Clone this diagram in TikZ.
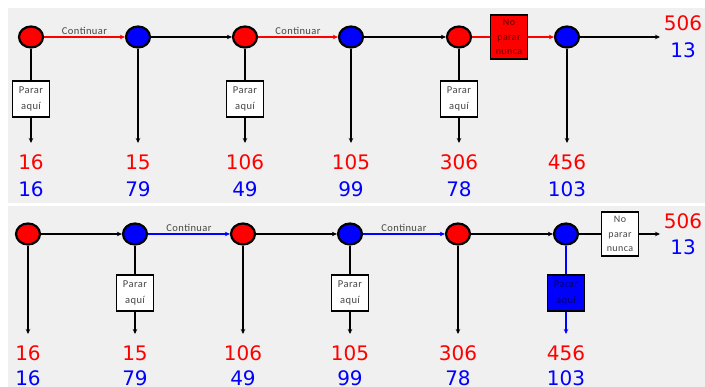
\documentclass[tikz,border=0pt]{standalone}
\usepackage{fontspec}
\setmainfont{Carlito}[LetterSpace=4]
\newfontfamily\numfont{DejaVu Sans}
\usetikzlibrary{shapes.geometric,arrows.meta}
\definecolor{bg}{RGB}{240,240,240}
\definecolor{myred}{RGB}{255,0,0}
\definecolor{myblue}{RGB}{0,0,255}
\definecolor{boxtxt}{RGB}{70,70,70}
\tikzset{
 circ/.style={ellipse,draw=black,line width=2.2pt,minimum width=24pt,minimum height=21pt,inner sep=0pt},
 rednode/.style={circ,fill=myred},
 bluenode/.style={circ,fill=myblue},
 stopbox/.style={draw=black,line width=1.3pt,fill=white,minimum width=37pt,minimum height=36pt,inner sep=1pt,align=center,font=\fontsize{10.5}{16}\selectfont,text=boxtxt},
 nobox/.style={stopbox,minimum height=44pt,font=\fontsize{10}{14.5}\selectfont},
 conn/.style={line width=1.5pt},
 arr/.style={conn,-{Stealth[length=5pt,width=4.5pt]}},
 num/.style={font=\numfont\fontsize{20}{20}\selectfont,inner sep=0pt},
 rnum/.style={num,text=myred},
 bnum/.style={num,text=myblue},
 lbl/.style={font=\fontsize{10.5}{10.5}\selectfont,text=boxtxt,inner sep=1pt,above,yshift=0.5pt}
}
\begin{document}
\begin{tikzpicture}[x=1pt,y=-1pt]
\useasboundingbox (0,0) rectangle (705,387);
\fill[white] (0,0) rectangle (705,387);
\fill[bg] (8,8) rectangle (705,203);
\fill[bg] (8,206) rectangle (705,387);
% ---------- top panel ----------
\node[rednode] (a1) at (31,37) {};
\node[bluenode] (a2) at (138,37) {};
\node[rednode] (a3) at (245,37) {};
\node[bluenode] (a4) at (351,37) {};
\node[rednode] (a5) at (459,37) {};
\node[bluenode] (a6) at (567,37) {};
\node[nobox,fill=myred,text=black!60!red] (ta) at (509,37) {No\\parar\\nunca};
\coordinate (tend) at (660,37);
\node[rnum] (tr) at (683,23) {506};
\node[bnum] (tb) at (683,50) {13};
\draw[arr,myred] (a1) -- node[lbl]{Continuar} (a2);
\draw[arr] (a2) -- (a3);
\draw[arr,myred] (a3) -- node[lbl]{Continuar} (a4);
\draw[arr] (a4) -- (a5);
\draw[conn,myred] (a5) -- (ta);
\draw[arr,myred] (ta) -- (a6);
\draw[arr] (a6) -- (tend);
\node[stopbox] (pa1) at (31,99) {Parar\\aquí};
\node[stopbox] (pa3) at (245,99) {Parar\\aquí};
\node[stopbox] (pa5) at (459,99) {Parar\\aquí};
\foreach \i/\x in {1/31,2/138,3/245,4/351,5/459,6/567}{
  \coordinate (da\i) at (\x,143);
}
\draw[conn] (a1) -- (pa1); \draw[arr] (pa1) -- (da1);
\draw[arr] (a2) -- (da2);
\draw[conn] (a3) -- (pa3); \draw[arr] (pa3) -- (da3);
\draw[arr] (a4) -- (da4);
\draw[conn] (a5) -- (pa5); \draw[arr] (pa5) -- (da5);
\draw[arr] (a6) -- (da6);
\foreach \i/\x/\r/\b in {1/31/16/16,2/138/15/79,3/245/106/49,4/351/105/99,5/459/306/78,6/567/456/103}{
  \node[rnum] (ra\i) at (\x,162) {\r};
  \node[bnum] (ba\i) at (\x,189) {\b};
}
% ---------- bottom panel ----------
\node[rednode] (b1) at (28,234) {};
\node[bluenode] (b2) at (135,234) {};
\node[rednode] (b3) at (243,234) {};
\node[bluenode] (b4) at (350,234) {};
\node[rednode] (b5) at (458,234) {};
\node[bluenode] (b6) at (566,234) {};
\node[nobox] (tb2) at (620,234) {No\\parar\\nunca};
\coordinate (bend) at (660,234);
\node[rnum] (br) at (683,221) {506};
\node[bnum] (bb) at (683,247) {13};
\draw[arr] (b1) -- (b2);
\draw[arr,myblue] (b2) -- node[lbl]{Continuar} (b3);
\draw[arr] (b3) -- (b4);
\draw[arr,myblue] (b4) -- node[lbl]{Continuar} (b5);
\draw[arr] (b5) -- (b6);
\draw[conn] (b6) -- (tb2);
\draw[arr] (tb2) -- (bend);
\node[stopbox] (pb2) at (135,293) {Parar\\aquí};
\node[stopbox] (pb4) at (350,293) {Parar\\aquí};
\node[stopbox,fill=myblue,text=black!55!blue] (pb6) at (566,293) {Parar\\aquí};
\foreach \i/\x in {1/28,2/135,3/243,4/350,5/458,6/566}{
  \coordinate (db\i) at (\x,334);
}
\draw[arr] (b1) -- (db1);
\draw[conn] (b2) -- (pb2); \draw[arr] (pb2) -- (db2);
\draw[arr] (b3) -- (db3);
\draw[conn] (b4) -- (pb4); \draw[arr] (pb4) -- (db4);
\draw[arr] (b5) -- (db5);
\draw[conn,myblue] (b6) -- (pb6); \draw[arr,myblue] (pb6) -- (db6);
\foreach \i/\x/\r/\b in {1/28/16/16,2/135/15/79,3/243/106/49,4/350/105/99,5/458/306/78,6/566/456/103}{
  \node[rnum] (rb\i) at (\x,353) {\r};
  \node[bnum] (bb\i) at (\x,378) {\b};
}
\end{tikzpicture}
\end{document}
